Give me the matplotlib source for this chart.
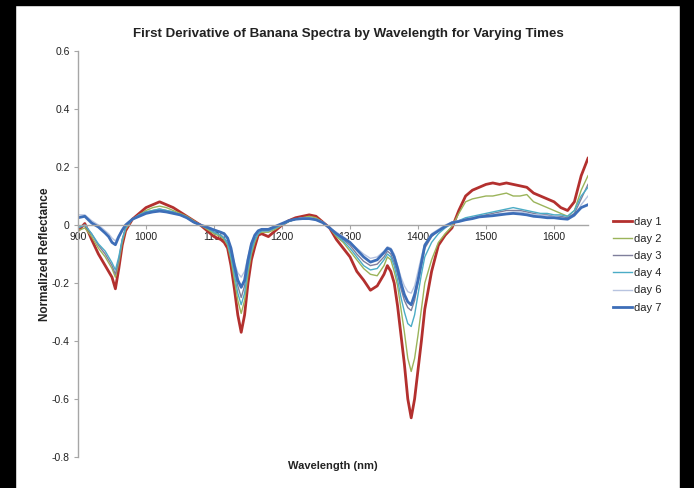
import matplotlib
matplotlib.use("Agg")
import matplotlib.pyplot as plt
from matplotlib.patches import Rectangle
from matplotlib.ticker import FuncFormatter

plt.rcParams['font.family'] = ['Liberation Sans', 'DejaVu Sans']

wavelength = [
    900, 910, 920, 930, 940, 945, 950, 955, 960, 965,
    970, 980, 990, 1000, 1010, 1020, 1030, 1040, 1050, 1060,
    1070, 1080, 1090, 1100, 1110, 1115, 1120, 1125, 1130, 1135,
    1140, 1145, 1150, 1155, 1160, 1165, 1170, 1180, 1190, 1200,
    1210, 1220, 1230, 1240, 1250, 1260, 1270, 1280, 1290, 1300,
    1310, 1320, 1330, 1340, 1350, 1355, 1360, 1365, 1370, 1375,
    1380, 1385, 1390, 1395, 1400, 1405, 1410, 1420, 1430, 1440,
    1450, 1460, 1470, 1480, 1490, 1500, 1510, 1520, 1530, 1540,
    1550, 1560, 1570, 1580, 1590, 1600, 1610, 1620, 1630, 1640,
    1650,
]

day1 = [
    -0.02, 0.005, -0.05, -0.10, -0.14, -0.16, -0.18, -0.22, -0.15, -0.07,
    -0.02, 0.02, 0.04, 0.06, 0.07, 0.08, 0.07, 0.06, 0.045, 0.03,
    0.015, 0.0, -0.02, -0.04, -0.05, -0.06, -0.08, -0.14, -0.22, -0.31,
    -0.37, -0.31, -0.20, -0.12, -0.075, -0.035, -0.03, -0.04, -0.02, 0.0,
    0.015, 0.025, 0.03, 0.035, 0.03, 0.01, -0.01, -0.05, -0.08, -0.11,
    -0.16, -0.19, -0.225, -0.21, -0.17, -0.14, -0.16, -0.20, -0.28, -0.38,
    -0.48, -0.60, -0.665, -0.60, -0.50, -0.40, -0.29, -0.16, -0.07, -0.035,
    -0.01, 0.05, 0.10, 0.12, 0.13, 0.14, 0.145, 0.14, 0.145, 0.14,
    0.135, 0.13, 0.11, 0.10, 0.09, 0.08, 0.06, 0.05, 0.08, 0.17,
    0.23,
]

day2 = [
    -0.02, -0.01, -0.04, -0.08, -0.11, -0.13, -0.15, -0.18, -0.13, -0.06,
    -0.015, 0.02, 0.035, 0.05, 0.06, 0.065, 0.06, 0.05, 0.04, 0.03,
    0.015, 0.0, -0.015, -0.03, -0.04, -0.05, -0.07, -0.12, -0.19, -0.26,
    -0.305, -0.26, -0.17, -0.10, -0.06, -0.03, -0.025, -0.025, -0.015, 0.0,
    0.012, 0.02, 0.025, 0.03, 0.025, 0.01, -0.01, -0.04, -0.06, -0.09,
    -0.12, -0.15, -0.17, -0.175, -0.14, -0.11, -0.12, -0.16, -0.21, -0.29,
    -0.37, -0.46, -0.505, -0.46, -0.38, -0.29, -0.20, -0.12, -0.06, -0.03,
    -0.005, 0.04, 0.08, 0.09, 0.095, 0.10, 0.10, 0.105, 0.11, 0.10,
    0.10, 0.105, 0.08, 0.07, 0.06, 0.05, 0.04, 0.03, 0.05, 0.12,
    0.17,
]

day3 = [
    -0.01, 0.0, -0.03, -0.07, -0.10, -0.12, -0.14, -0.17, -0.12, -0.05,
    -0.01, 0.02, 0.035, 0.045, 0.05, 0.055, 0.05, 0.045, 0.035, 0.025,
    0.01, 0.0, -0.01, -0.025, -0.035, -0.045, -0.06, -0.10, -0.16, -0.21,
    -0.25, -0.21, -0.14, -0.08, -0.05, -0.03, -0.02, -0.02, -0.01, 0.0,
    0.012, 0.02, 0.022, 0.025, 0.02, 0.01, -0.01, -0.03, -0.05, -0.07,
    -0.10, -0.125, -0.14, -0.135, -0.11, -0.09, -0.10, -0.13, -0.17, -0.22,
    -0.26, -0.285, -0.295, -0.26, -0.20, -0.14, -0.08, -0.04, -0.02, -0.005,
    0.008, 0.015, 0.02, 0.025, 0.03, 0.035, 0.04, 0.045, 0.05, 0.05,
    0.05, 0.045, 0.04, 0.035, 0.035, 0.03, 0.03, 0.025, 0.04, 0.09,
    0.14,
]

day4 = [
    -0.01, 0.0, -0.03, -0.065, -0.09, -0.11, -0.13, -0.155, -0.11, -0.05,
    -0.01, 0.02, 0.035, 0.045, 0.05, 0.055, 0.05, 0.045, 0.035, 0.025,
    0.01, 0.0, -0.01, -0.025, -0.035, -0.045, -0.065, -0.11, -0.17, -0.235,
    -0.275, -0.235, -0.15, -0.09, -0.05, -0.03, -0.02, -0.02, -0.01, 0.0,
    0.012, 0.02, 0.022, 0.025, 0.02, 0.01, -0.01, -0.035, -0.055, -0.08,
    -0.11, -0.14, -0.155, -0.15, -0.12, -0.10, -0.11, -0.14, -0.19, -0.25,
    -0.30, -0.34, -0.35, -0.31, -0.24, -0.17, -0.11, -0.06, -0.03, -0.01,
    0.005, 0.015, 0.025, 0.03, 0.035, 0.04, 0.045, 0.05, 0.055, 0.06,
    0.055, 0.05, 0.045, 0.04, 0.04, 0.035, 0.035, 0.03, 0.05, 0.10,
    0.13,
]

day6 = [
    0.035, 0.035, 0.015, 0.0, -0.02, -0.03, -0.045, -0.055, -0.035, -0.015,
    0.0, 0.02, 0.03, 0.04, 0.045, 0.05, 0.045, 0.04, 0.035, 0.025,
    0.01, 0.0, -0.005, -0.015, -0.025, -0.035, -0.05, -0.08, -0.13, -0.165,
    -0.18, -0.16, -0.11, -0.06, -0.035, -0.02, -0.015, -0.015, -0.005, 0.005,
    0.015, 0.02, 0.025, 0.025, 0.02, 0.01, -0.01, -0.025, -0.04, -0.06,
    -0.08, -0.10, -0.115, -0.11, -0.09, -0.075, -0.08, -0.10, -0.14, -0.18,
    -0.21, -0.23, -0.235, -0.21, -0.16, -0.11, -0.065, -0.03, -0.015, 0.0,
    0.01, 0.015, 0.02, 0.025, 0.03, 0.03, 0.035, 0.04, 0.04, 0.045,
    0.045, 0.04, 0.035, 0.035, 0.03, 0.03, 0.025, 0.02, 0.03, 0.07,
    0.10,
]

day7 = [
    0.025, 0.03, 0.007, -0.007, -0.028, -0.04, -0.06, -0.068, -0.04, -0.018,
    0.0, 0.02, 0.03, 0.04, 0.045, 0.048, 0.045, 0.04, 0.035, 0.025,
    0.01, 0.0, -0.008, -0.017, -0.025, -0.03, -0.045, -0.08, -0.14, -0.19,
    -0.215, -0.19, -0.12, -0.065, -0.035, -0.02, -0.015, -0.015, -0.005, 0.005,
    0.015, 0.02, 0.022, 0.022, 0.018, 0.008, -0.01, -0.03, -0.045, -0.06,
    -0.085, -0.11, -0.128, -0.12, -0.095, -0.08, -0.085, -0.11, -0.15, -0.20,
    -0.24, -0.265, -0.275, -0.24, -0.19, -0.13, -0.07, -0.035, -0.02, -0.005,
    0.008, 0.012, 0.018, 0.022, 0.028, 0.03, 0.032, 0.035, 0.038, 0.04,
    0.038, 0.035, 0.03, 0.028, 0.025, 0.025, 0.022, 0.02, 0.035, 0.06,
    0.07,
]

series_labels = ["day 1", "day 2", "day 3", "day 4", "day 6", "day 7"]
series_values = [day1, day2, day3, day4, day6, day7]
colors = ["#b3302e", "#9bb45a", "#7f7f9c", "#4bacc6", "#b8c4e0", "#3d6eb8"]
widths = [2.0, 1.0, 1.0, 1.0, 1.0, 2.0]

x_ticks = [900, 1000, 1100, 1200, 1300, 1400, 1500, 1600]
y_ticks = [-0.8, -0.6, -0.4, -0.2, 0, 0.2, 0.4, 0.6]

fig = plt.figure(figsize=(6.94, 4.88), dpi=100)
fig.patch.set_facecolor("white")

# black frame around the image
fig.patches.append(Rectangle((0, 0), 15 / 694, 1, transform=fig.transFigure,
                             color="black", zorder=10))
fig.patches.append(Rectangle((680 / 694, 0), 14 / 694, 1, transform=fig.transFigure,
                             color="black", zorder=10))
fig.patches.append(Rectangle((0, 1 - 5 / 488), 1, 5 / 488, transform=fig.transFigure,
                             color="black", zorder=10))

ax = fig.add_axes([78 / 694, 1 - 457 / 488, (588 - 78) / 694, (457 - 51) / 488])

for vals, lab, c, w in zip(series_values, series_labels, colors, widths):
    assert len(vals) == len(wavelength)
    ax.plot(wavelength, vals, color=c, lw=w, label=lab)

ax.set_xlim(900, 1650)
ax.set_ylim(-0.8, 0.6)
ax.set_xticks(x_ticks)
ax.set_yticks(y_ticks)
ax.yaxis.set_major_formatter(FuncFormatter(lambda v, p: "0" if abs(v) < 1e-9 else f"{v:.1f}"))

for s in ["top", "right"]:
    ax.spines[s].set_visible(False)
ax.spines["left"].set_color("#a6a6a6")
ax.spines["bottom"].set_color("#a6a6a6")
ax.spines["bottom"].set_position(("data", 0))
ax.spines["left"].set_linewidth(1.0)
ax.spines["bottom"].set_linewidth(1.0)
ax.tick_params(axis="both", colors="#a6a6a6", labelcolor="#222222",
               labelsize=7.5, length=3, width=0.8)
ax.tick_params(axis="y", pad=3)
ax.tick_params(axis="x", pad=2)

ax.set_ylabel("Normalized Reflectance", fontsize=8.5, fontweight="bold", color="#222222")
ax.yaxis.set_label_coords((51 - 78) / 510, 0.5)
fig.text(333 / 694, 1 - 466 / 488, "Wavelength (nm)", fontsize=8, fontweight="bold",
         color="#222222", ha="center", va="center")
fig.text(348 / 694, 1 - 34 / 488,
         "First Derivative of Banana Spectra by Wavelength for Varying Times",
         fontsize=9.6, fontweight="bold", color="#222222", ha="center", va="center")

leg = fig.legend(loc="upper left", bbox_to_anchor=(613 / 694, 1 - 217 / 488),
                 frameon=False, fontsize=8, handlelength=1.7, handletextpad=0.15,
                 labelspacing=0.64, borderaxespad=0, borderpad=0)
for t in leg.get_texts():
    t.set_color("#222222")

fig.savefig("out.png", dpi=100, facecolor="white")
